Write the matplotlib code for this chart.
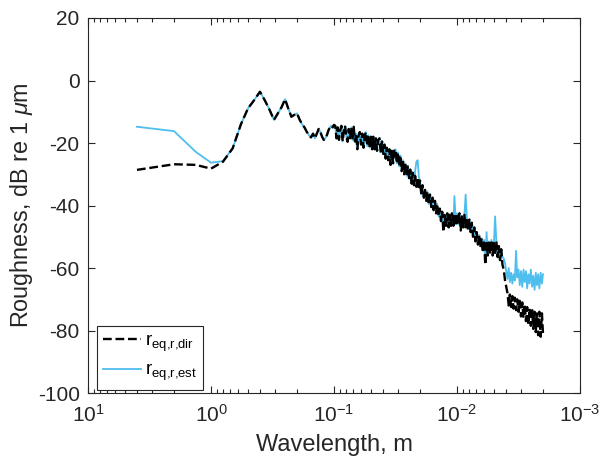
import numpy as np
import matplotlib
matplotlib.use("Agg")
import matplotlib.pyplot as plt

# Roughness spectra (wavelength in m, level in dB re 1 um)
wavelength = [
    4.0, 2.0, 1.333, 1.0, 0.8, 0.6667, 0.5714, 0.5, 0.4444, 0.4,
    0.3636, 0.3333, 0.3077, 0.2857, 0.2667, 0.25, 0.2353, 0.2222, 0.2105, 0.2,
    0.1905, 0.1818, 0.1739, 0.1667, 0.16, 0.1538, 0.1481, 0.1429, 0.1379, 0.1333,
    0.129, 0.125, 0.1212, 0.1176, 0.1143, 0.1111, 0.1081, 0.1053, 0.1026, 0.1,
    0.0977, 0.0955, 0.0933, 0.0912, 0.0891, 0.0871, 0.0851, 0.0832, 0.0813, 0.0794,
    0.0776, 0.0759, 0.0741, 0.0724, 0.0708, 0.0692, 0.0676, 0.0661, 0.0646, 0.0631,
    0.0617, 0.0603, 0.0589, 0.0575, 0.0562, 0.0550, 0.0537, 0.0525, 0.0513, 0.0501,
    0.0490, 0.0479, 0.0468, 0.0457, 0.0447, 0.0437, 0.0427, 0.0417, 0.0407, 0.0398,
    0.0389, 0.0380, 0.0372, 0.0363, 0.0355, 0.0347, 0.0339, 0.0331, 0.0324, 0.0316,
    0.0309, 0.0302, 0.0295, 0.0288, 0.0282, 0.0275, 0.0269, 0.0263, 0.0257, 0.0251,
    0.0245, 0.0240, 0.0234, 0.0229, 0.0224, 0.0219, 0.0214, 0.0209, 0.0204, 0.0200,
    0.0195, 0.0191, 0.0186, 0.0182, 0.0178, 0.0174, 0.0170, 0.0166, 0.0162, 0.0158,
    0.0155, 0.0151, 0.0148, 0.0145, 0.0141, 0.0138, 0.0135, 0.0132, 0.0129, 0.0126,
    0.0123, 0.0120, 0.0117, 0.0115, 0.0112, 0.0110, 0.0107, 0.0105, 0.0102, 0.0100,
    0.00977, 0.00955, 0.00933, 0.00912, 0.00891, 0.00871, 0.00851, 0.00832, 0.00813, 0.00794,
    0.00776, 0.00759, 0.00741, 0.00724, 0.00708, 0.00692, 0.00676, 0.00661, 0.00646, 0.00631,
    0.00617, 0.00603, 0.00589, 0.00575, 0.00562, 0.00550, 0.00537, 0.00525, 0.00513, 0.00501,
    0.00490, 0.00479, 0.00468, 0.00457, 0.00447, 0.00437, 0.00427, 0.00417, 0.00407, 0.00398,
    0.00389, 0.00380, 0.00372, 0.00363, 0.00355, 0.00347, 0.00339, 0.00331, 0.00324, 0.00316,
    0.00309, 0.00302, 0.00295, 0.00288, 0.00282, 0.00275, 0.00269, 0.00263, 0.00257, 0.00251,
    0.00245, 0.00240, 0.00234, 0.00229, 0.00224, 0.00219, 0.00214, 0.00209, 0.00204, 0.00200,
]

r_dir = [
    -28.6, -26.8, -27.0, -28.2, -26.0, -21.7, -14.0, -8.9, -6.2, -3.6,
    -6.5, -9.5, -12.6, -10.5, -8.5, -6.0, -9.0, -11.6, -11.0, -10.5,
    -12.5, -14.0, -15.0, -16.4, -17.5, -18.2, -17.0, -18.5, -17.0, -15.5,
    -16.5, -18.0, -19.0, -18.5, -17.5, -16.0, -15.0, -14.5, -15.0, -14.2,
    -14.5, -18.5, -15, -19, -16, -14.5, -19.5, -16, -14.5, -18,
    -19.6, -15.5, -18.5, -15, -19, -14.8, -19.5, -17, -22, -17.5,
    -16.5, -20.5, -17, -21.5, -17.5, -16.5, -21, -17.5, -21.5, -18,
    -22, -18, -22, -18.5, -22.5, -19, -18.5, -23, -19.5, -23.5,
    -20.5, -25, -21.5, -25.5, -22, -27, -22.5, -26.5, -22.5, -22,
    -26.5, -23, -27.5, -24, -29, -25.5, -30, -26.5, -30.5, -27.5,
    -31.5, -28.5, -33, -29.5, -33.5, -30.5, -34, -31, -35, -32,
    -36.5, -33.5, -37.5, -35, -38.5, -35.5, -39.5, -36.5, -40.5, -37.5,
    -41.5, -38.5, -42.5, -39.5, -43.5, -41, -45, -42, -48.5, -43,
    -46.5, -42.5, -47, -43, -46.5, -42.5, -46.5, -43, -46.5, -42.5,
    -46, -42.5, -48, -43.5, -47, -43, -47, -44, -48, -44.5,
    -48.5, -45.5, -50, -47, -51.5, -48.5, -52.5, -49.5, -53.5, -50.5,
    -55, -51, -59, -52, -56, -51.5, -55.5, -51, -56, -52,
    -55.5, -51.5, -56.5, -53, -57.5, -54, -59, -60.5, -64, -66,
    -68, -72, -68.5, -72.5, -69, -73, -69.5, -73.5, -70, -74,
    -70.5, -75.5, -71, -76, -71.5, -77, -72.5, -78, -73, -78.5,
    -73.5, -79.5, -74, -80.5, -74.5, -81.5, -74, -82, -74.5, -81,
]

r_est = [
    -14.8, -16.2, -22.8, -26.3, -25.8, -21.7, -14.0, -8.9, -6.2, -3.6,
    -6.5, -9.5, -12.6, -10.5, -8.5, -6.0, -9.0, -11.6, -11.0, -10.5,
    -12.5, -14.0, -15.0, -16.4, -17.5, -18.2, -17.0, -18.5, -17.0, -15.5,
    -16.5, -18.0, -19.0, -18.5, -17.5, -16.0, -15.0, -14.5, -15.0, -14.2,
    -14.5, -18.5, -15, -19, -16, -14.5, -19.5, -16, -14.5, -18,
    -19.6, -15.5, -18.5, -15, -19, -14.8, -19.5, -17, -22, -17.5,
    -16.5, -20.5, -17, -21.5, -17.5, -16.5, -21, -17.5, -21.5, -18,
    -22, -18, -22, -18.5, -22.5, -19, -18.5, -23, -19.5, -23.5,
    -20.5, -25, -21.5, -25.5, -22, -27, -22.5, -26.5, -22.5, -22,
    -26.5, -23, -27.5, -24, -29, -25.5, -30, -26.5, -30.5, -27.5,
    -31.5, -28.5, -33, -29.5, -33.5, -29, -26, -25.5, -31, -32,
    -36.5, -33.5, -37.5, -35, -38.5, -35.5, -39.5, -36.5, -40.5, -37.5,
    -41.5, -38.5, -42.5, -39.5, -43.5, -41, -45, -42, -47.5, -43,
    -46.5, -42.5, -47, -43, -46.5, -42.5, -46, -37, -46, -42.5,
    -46, -42.5, -47.5, -43.5, -47, -43, -36.5, -44, -47.5, -44.5,
    -48, -45.5, -49.5, -47, -51, -48.5, -52, -49.5, -53, -50.5,
    -54.5, -51, -58, -48.5, -55.5, -51.5, -55, -51, -55.5, -52,
    -43.5, -51.5, -56, -53, -57, -54, -56.5, -57, -58.5, -61,
    -63.5, -60, -64.5, -61.5, -65, -62, -64, -54.5, -63, -60.5,
    -65.5, -61, -66, -60.5, -64.5, -61, -66.5, -62, -65, -60.5,
    -66, -62.5, -67, -61.5, -65.5, -62, -66.5, -61.5, -65, -62,
]

# MATLAB-like look
plt.rcParams["font.family"] = ["Liberation Sans", "DejaVu Sans"]
plt.rcParams["mathtext.fontset"] = "custom"
plt.rcParams["mathtext.rm"] = "Liberation Sans"
plt.rcParams["mathtext.it"] = "Liberation Sans:italic"
plt.rcParams["axes.unicode_minus"] = False
dark = "#262626"

fig = plt.figure(figsize=(6.05, 4.58), dpi=100)
ax = fig.add_axes([0.1455, 0.1419, 0.8132, 0.8188])

ax.plot(wavelength, r_dir, "--", color="black", lw=1.7, zorder=3,
        label=r"r$_{\mathregular{eq{,}r{,}dir}}$")
ax.plot(wavelength, r_est, "-", color="#4DBEEE", lw=1.3, zorder=2,
        label=r"r$_{\mathregular{eq{,}r{,}est}}$")

ax.set_xscale("log")
ax.set_xlim(10, 1e-3)
ax.set_ylim(-100, 20)
ax.set_yticks(np.arange(-100, 21, 20))

ax.set_xlabel("Wavelength, m", fontsize=17, color=dark, labelpad=6)
ax.set_ylabel(r"Roughness, dB re 1 $\mu$m", fontsize=16.8, color=dark, labelpad=2)

ax.tick_params(which="both", direction="in", top=True, right=True,
               colors=dark, labelsize=15, width=0.8)
ax.tick_params(which="major", length=5)
ax.tick_params(axis="x", which="major", pad=8)
ax.tick_params(axis="y", which="major", pad=6)
ax.tick_params(which="minor", length=3)
for sp in ax.spines.values():
    sp.set_color(dark)
    sp.set_linewidth(0.8)

leg = ax.legend(loc="lower left", bbox_to_anchor=(0.018, 0.008),
                borderaxespad=0, fontsize=13.5, fancybox=False,
                framealpha=1, edgecolor=dark, handlelength=2.0,
                handletextpad=0.2, borderpad=0.35, labelspacing=0.45)
leg.get_frame().set_linewidth(0.8)

plt.savefig("out.png", dpi=100)
